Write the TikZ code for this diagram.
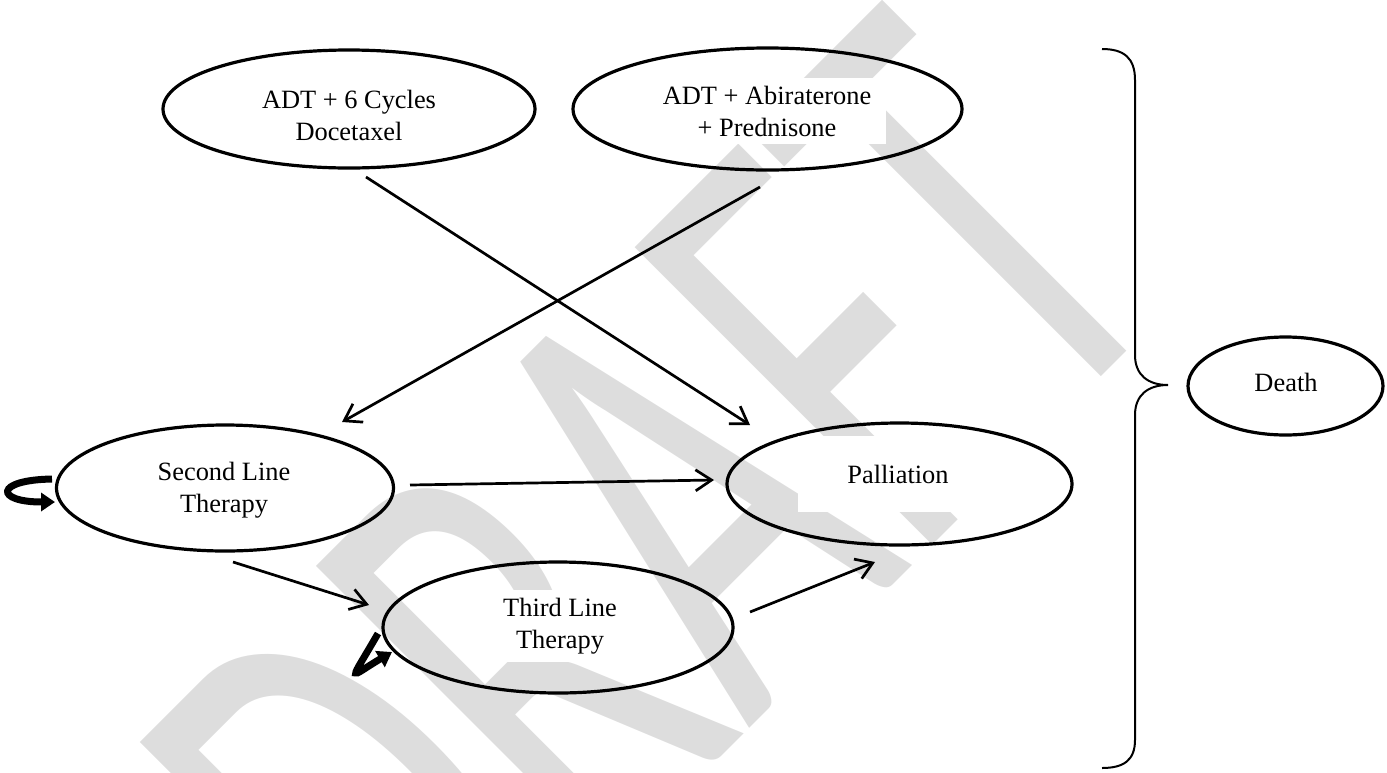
\documentclass[tikz,border=0pt]{standalone}
\usepackage{fontspec}
\setmainfont{Liberation Serif}
\newfontfamily\wmfont{Carlito}
\usetikzlibrary{arrows.meta,shapes.geometric}
\definecolor{wmgray}{RGB}{221,221,221}
\begin{document}
\begin{tikzpicture}[x=0.5pt,y=-0.5pt,
  ell/.style={draw,ellipse,line width=1.6pt,inner sep=0pt},
  txt/.style={fill=white,align=center,inner xsep=7.5pt,inner ysep=4pt,font=\fontsize{13.2}{16}\selectfont},
  conn/.style={line width=1.35pt,-{Straight Barb[length=8pt,width=10.5pt,line width=1.35pt]}},
  selfloop/.style={line width=3.5pt,-{Triangle[length=7pt,width=9pt]}},
  bracestyle/.style={line width=1pt}
]
\useasboundingbox (0,0) rectangle (1387,772);
% watermark
\node[anchor=base west,rotate=45,xscale=0.615,text=wmgray,font=\wmfont\fontsize{328}{328}\selectfont,inner sep=0pt] (wm) at (418,1060) {DRAFT};

% ellipses and their texts
\node[ell,minimum width=186pt,minimum height=59pt] (a) at (349,109) {};
\node[txt] (at) at (349,115) {ADT + 6 Cycles\\Docetaxel};
\node[ell,minimum width=194.5pt,minimum height=61pt] (b) at (767.5,109) {};
\node[txt] (bt) at (767,111) {ADT + Abiraterone\\+ Prednisone};
\node[ell,minimum width=168.5pt,minimum height=63pt] (sl) at (225,488) {};
\node[txt] (slt) at (224,490) {Second Line\\Therapy};
\node[ell,minimum width=172.5pt,minimum height=61pt] (p) at (899.5,484) {};
\node[txt,minimum width=100pt,minimum height=38pt] (pt) at (898,474) {Palliation};
\node[ell,minimum width=175pt,minimum height=65.5pt] (tl) at (558,627.5) {};
\node[txt] (tlt) at (560,626) {Third Line\\Therapy};
\node[ell,minimum width=97.5pt,minimum height=49pt] (d) at (1285.5,386) {};
\node[txt] (dt) at (1286,382) {Death};

% connectors
\draw[conn] ([shift={(17,68)}]a.center) -- ([shift={(-149.5,-59)}]p.center);
\draw[conn] ([shift={(-7.5,78)}]b.center) -- ([shift={(117,-66)}]sl.center);
\draw[conn] ([shift={(185,-3)}]sl.center) -- ([shift={(-185.5,-4)}]p.center);
\draw[conn] ([shift={(8,74)}]sl.center) -- ([shift={(-189,-22.5)}]tl.center);
\draw[conn] ([shift={(192,-15.5)}]tl.center) -- ([shift={(-24.5,78)}]p.center);

% self loops
\draw[selfloop] ([shift={(-173,-9)}]sl.center) .. controls +(-58,1) and +(-60,0) .. ([shift={(-170,14)}]sl.center);
\draw[selfloop] ([shift={(-180,6)}]tl.center) .. controls +(-30,52) and +(-44,26) .. ([shift={(-166,24.5)}]tl.center);

% brace
\draw[bracestyle] (1102,49) .. controls (1124,49) and (1135,58) .. (1135,80) -- (1135,355)
  .. controls (1135,375) and (1148,385) .. (1168,385)
  .. controls (1148,385) and (1135,395) .. (1135,415) -- (1135,740)
  .. controls (1135,760) and (1124,768) .. (1102,768);
\end{tikzpicture}
\end{document}
